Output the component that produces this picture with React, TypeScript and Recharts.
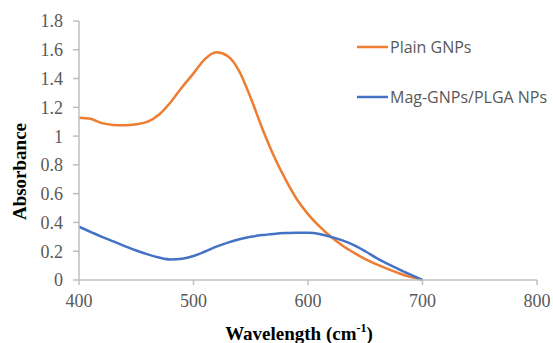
import React from "react";
import { LineChart, Line, XAxis, YAxis, Label } from "recharts";

const wavelengths = [400, 410, 420, 430, 440, 450, 460, 470, 480, 490, 500, 510, 520, 530, 540, 550, 560, 570, 580, 590, 600, 610, 620, 630, 640, 650, 660, 670, 680, 690, 700];
const plainGNPs = [1.128, 1.12, 1.09, 1.078, 1.075, 1.082, 1.1, 1.15, 1.235, 1.34, 1.436, 1.535, 1.582, 1.555, 1.45, 1.265, 1.055, 0.865, 0.705, 0.565, 0.458, 0.372, 0.3, 0.24, 0.19, 0.145, 0.108, 0.075, 0.045, 0.02, 0];
const magGNPs = [0.37, 0.335, 0.3, 0.268, 0.236, 0.205, 0.178, 0.156, 0.143, 0.148, 0.167, 0.198, 0.232, 0.26, 0.283, 0.3, 0.312, 0.32, 0.326, 0.329, 0.328, 0.32, 0.3, 0.275, 0.243, 0.2, 0.152, 0.11, 0.072, 0.035, 0];
const xTicks = [400, 500, 600, 700, 800];
const yTicks = [0, 0.2, 0.4, 0.6, 0.8, 1, 1.2, 1.4, 1.6, 1.8];
const seriesNames = ["Plain GNPs", "Mag-GNPs/PLGA NPs"];
const seriesColors = ["#ED7D31", "#4472C4"];

const data = wavelengths.map((wl, i) => ({ wl, plain: plainGNPs[i], mag: magGNPs[i] }));

const AXIS = "#BFBFBF";
const TEXT = "#595959";
const SERIF = "'Liberation Serif', 'Times New Roman', serif";

export default function App() {
  return (
    <div style={{ position: "absolute", left: 0, top: 0, width: 553, height: 343, background: "#fff" }}>
      <LineChart width={553} height={343} data={data} margin={{ top: 21, right: 16, bottom: 33, left: 19 }}>
        <XAxis
          type="number"
          dataKey="wl"
          domain={[400, 800]}
          ticks={xTicks}
          stroke={AXIS}
          tickSize={5}
          tickMargin={9}
          height={30}
          tick={{ fill: TEXT, fontSize: 18, fontFamily: SERIF }}
          axisLine={{ stroke: AXIS, strokeWidth: 1.5 }}
          tickLine={{ stroke: AXIS, strokeWidth: 1.5 }}
        >
          <Label
            content={(p: any) => {
              const vb = p.viewBox;
              return (
                <text x={vb.x + vb.width / 2 - 9} y={340} textAnchor="middle" fontSize={19} fontWeight="bold" fontFamily={SERIF} fill="#000">
                  Wavelength (cm
                  <tspan fontSize={12} dy={-8}>-1</tspan>
                  <tspan dy={8}>)</tspan>
                </text>
              );
            }}
          />
        </XAxis>
        <YAxis
          type="number"
          domain={[0, 1.8]}
          ticks={yTicks}
          width={60}
          tickSize={6}
          tickMargin={10}
          tickFormatter={(v: number) => String(+v.toFixed(1))}
          tick={{ fill: TEXT, fontSize: 18, fontFamily: SERIF }}
          axisLine={{ stroke: AXIS, strokeWidth: 1.5 }}
          tickLine={{ stroke: AXIS, strokeWidth: 1.5 }}
        >
          <Label
            content={(p: any) => {
              const vb = p.viewBox;
              const cy = vb.y + vb.height / 2 + 21;
              return (
                <text x={19} y={cy} transform={`rotate(-90, 19, ${cy})`} textAnchor="middle" dominantBaseline="central" fontSize={19} fontWeight="bold" fontFamily={SERIF} fill="#000">
                  Absorbance
                </text>
              );
            }}
          />
        </YAxis>
        <Line name={seriesNames[0]} dataKey="plain" type="monotone" stroke={seriesColors[0]} strokeWidth={2.5} dot={false} isAnimationActive={false} />
        <Line name={seriesNames[1]} dataKey="mag" type="monotone" stroke={seriesColors[1]} strokeWidth={2.5} dot={false} isAnimationActive={false} />
      </LineChart>
      <svg width={200} height={80} style={{ position: "absolute", left: 357, top: 37 }}>
        {seriesNames.map((name, i) => (
          <g key={name}>
            <line x1={0} x2={31} y1={10 + i * 50} y2={10 + i * 50} stroke={seriesColors[i]} strokeWidth={2.5} />
            <text x={33} y={10 + i * 50} dy="0.35em" fontSize={16} fill={TEXT} fontFamily="'Open Sans', sans-serif">
              {name}
            </text>
          </g>
        ))}
      </svg>
    </div>
  );
}
